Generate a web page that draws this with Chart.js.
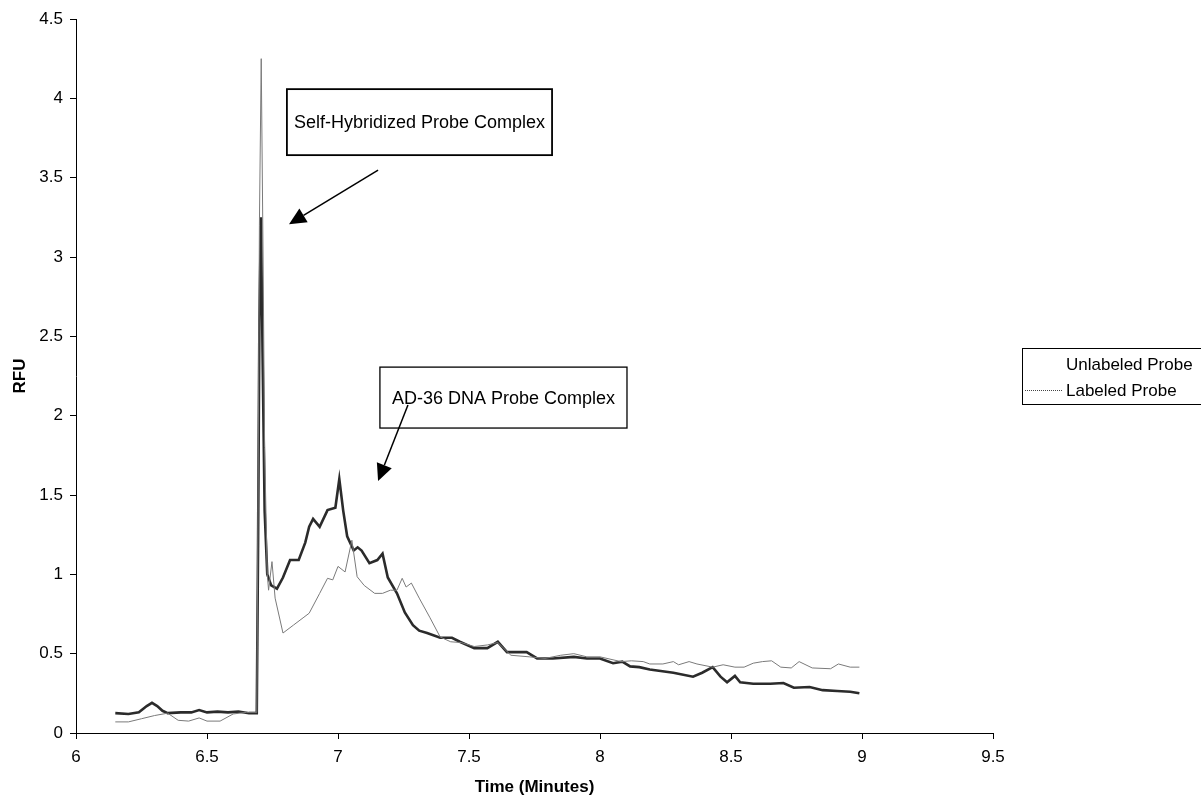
<!DOCTYPE html>
<html>
<head>
<meta charset="utf-8">
<title>RFU vs Time</title>
<script src="https://cdn.jsdelivr.net/npm/chart.js@4/dist/chart.umd.min.js"></script>
<style>
    html, body { margin: 0; padding: 0; background: #fff; }
    #wrap { width: 1201px; height: 798px; }
</style>
</head>
<body>
<div id="wrap"><canvas id="rfu"></canvas></div>
<script>
'use strict';

// tick values
const xTicks = [6, 6.5, 7, 7.5, 8, 8.5, 9, 9.5];
const yTicks = [0, 0.5, 1, 1.5, 2, 2.5, 3, 3.5, 4, 4.5];

// Unlabeled Probe (thin grey trace)
const unlabeledTime = [
    6.15, 6.20, 6.25, 6.30, 6.35, 6.39, 6.43, 6.47, 6.50, 6.55, 6.60, 6.65, 6.69,
    6.695, 6.70, 6.707, 6.714, 6.72, 6.73, 6.735, 6.748, 6.76, 6.79, 6.83, 6.87,
    6.89, 6.93, 6.96, 6.98, 7.00, 7.027, 7.053, 7.073, 7.10, 7.14, 7.17, 7.20,
    7.225, 7.245, 7.26, 7.28, 7.31, 7.35, 7.39, 7.43, 7.47, 7.52, 7.57, 7.61,
    7.66, 7.73, 7.79, 7.85, 7.90, 7.95, 8.00, 8.08, 8.12, 8.165, 8.19, 8.24,
    8.28, 8.30, 8.34, 8.37, 8.43, 8.47, 8.515, 8.55, 8.585, 8.62, 8.655, 8.69,
    8.73, 8.76, 8.81, 8.88, 8.91, 8.955, 8.99
];
const unlabeledRFU = [
    0.07, 0.07, 0.09, 0.11, 0.125, 0.08, 0.075, 0.095, 0.075, 0.075, 0.12, 0.13, 0.13,
    1.5, 3.2, 4.25, 3.0, 1.8, 1.0, 0.9, 1.08, 0.85, 0.63, 0.68, 0.73,
    0.755, 0.88, 0.975, 0.965, 1.05, 1.015, 1.215, 0.985, 0.93, 0.88, 0.88, 0.9,
    0.9, 0.975, 0.92, 0.945, 0.85, 0.73, 0.605, 0.575, 0.57, 0.545, 0.555, 0.57,
    0.49, 0.48, 0.47, 0.49, 0.5, 0.48, 0.48, 0.45, 0.455, 0.45, 0.435, 0.435,
    0.45, 0.43, 0.45, 0.435, 0.415, 0.43, 0.415, 0.415, 0.44, 0.45, 0.455, 0.415,
    0.41, 0.45, 0.41, 0.405, 0.435, 0.415, 0.415
];

// Labeled Probe (thick dark trace)
const labeledTime = [
    6.15, 6.20, 6.24, 6.27, 6.29, 6.31, 6.33, 6.35, 6.40, 6.44, 6.47, 6.50, 6.54,
    6.58, 6.62, 6.66, 6.69, 6.695, 6.70, 6.706, 6.712, 6.72, 6.73, 6.745, 6.767,
    6.79, 6.817, 6.85, 6.875, 6.89, 6.905, 6.93, 6.96, 6.99, 7.005, 7.02, 7.035,
    7.06, 7.075, 7.09, 7.12, 7.15, 7.17, 7.19, 7.225, 7.255, 7.286, 7.31, 7.34,
    7.39, 7.435, 7.465, 7.52, 7.57, 7.61, 7.645, 7.68, 7.72, 7.76, 7.82, 7.90,
    7.95, 8.00, 8.05, 8.085, 8.115, 8.15, 8.19, 8.28, 8.355, 8.39, 8.43, 8.46,
    8.485, 8.515, 8.535, 8.585, 8.65, 8.70, 8.74, 8.80, 8.85, 8.905, 8.955, 8.99
];
const labeledRFU = [
    0.125, 0.12, 0.13, 0.17, 0.19, 0.17, 0.14, 0.125, 0.13, 0.13, 0.145, 0.13, 0.135,
    0.13, 0.135, 0.125, 0.125, 1.2, 2.6, 3.25, 2.4, 1.4, 1.0, 0.93, 0.91,
    0.98, 1.09, 1.09, 1.2, 1.3, 1.35, 1.3, 1.405, 1.42, 1.6, 1.4, 1.24,
    1.15, 1.17, 1.15, 1.07, 1.09, 1.13, 0.98, 0.88, 0.76, 0.68, 0.645, 0.63,
    0.6, 0.6, 0.575, 0.535, 0.535, 0.575, 0.51, 0.51, 0.51, 0.47, 0.47, 0.48,
    0.47, 0.47, 0.44, 0.45, 0.42, 0.415, 0.4, 0.38, 0.355, 0.38, 0.415, 0.355,
    0.32, 0.36, 0.32, 0.31, 0.31, 0.315, 0.285, 0.29, 0.27, 0.265, 0.26, 0.25
];

const FONT = '"Liberation Sans", Arial, Helvetica, sans-serif';

function pairs(xs, ys) {
    return xs.map((x, i) => ({ x: x, y: ys[i] }));
}

// callout boxes and arrows, in data units
const callouts = [
    { text: 'Self-Hybridized Probe Complex', box: [6.805, 4.058, 7.817, 3.642], lw: 1.8,
      arrow: [7.153, 3.548, 6.813, 3.207] },
    { text: 'AD-36 DNA Probe Complex', box: [7.160, 2.306, 8.103, 1.922], lw: 1.3,
      arrow: [7.267, 2.067, 7.153, 1.588] }
];

function drawArrow(c, x1, y1, x2, y2) {
    const ang = Math.atan2(y2 - y1, x2 - x1);
    const len = 17, half = 8;
    const bx = x2 - len * Math.cos(ang), by = y2 - len * Math.sin(ang);
    c.beginPath();
    c.moveTo(x1, y1);
    c.lineTo(bx, by);
    c.stroke();
    c.beginPath();
    c.moveTo(x2, y2);
    c.lineTo(bx + half * Math.sin(ang), by - half * Math.cos(ang));
    c.lineTo(bx - half * Math.sin(ang), by + half * Math.cos(ang));
    c.closePath();
    c.fill();
}

const calloutPlugin = {
    id: 'callouts',
    afterDraw(chart) {
        const c = chart.ctx, xs = chart.scales.x, ys = chart.scales.y;
        c.save();
        c.strokeStyle = '#000';
        c.fillStyle = '#000';
        c.font = '18px ' + FONT;
        c.textAlign = 'center';
        c.textBaseline = 'middle';
        callouts.forEach(cl => {
            const l = xs.getPixelForValue(cl.box[0]), t = ys.getPixelForValue(cl.box[1]);
            const r = xs.getPixelForValue(cl.box[2]), b = ys.getPixelForValue(cl.box[3]);
            c.lineWidth = cl.lw;
            c.strokeRect(l, t, r - l, b - t);
            c.fillText(cl.text, (l + r) / 2, (t + b) / 2 + 1);
            c.lineWidth = 1.5;
            drawArrow(c, xs.getPixelForValue(cl.arrow[0]), ys.getPixelForValue(cl.arrow[1]),
                xs.getPixelForValue(cl.arrow[2]), ys.getPixelForValue(cl.arrow[3]));
        });

        // legend box at the right
        const lx = 1022, ly = 348, lw = 190, lh = 56;
        c.lineWidth = 1;
        c.strokeRect(lx + 0.5, ly + 0.5, lw, lh);
        c.textAlign = 'left';
        c.font = '17px ' + FONT;
        chart.data.datasets.forEach((ds, i) => {
            const yy = ly + 16 + i * 26;
            c.strokeStyle = ds.legendColor;
            c.lineWidth = 1;
            c.setLineDash([1, 1]);
            c.beginPath();
            c.moveTo(lx + 3, yy + 0.5);
            c.lineTo(lx + 41, yy + 0.5);
            c.stroke();
            c.setLineDash([]);
            c.fillStyle = '#000';
            c.fillText(ds.label, lx + 44, yy + 1);
        });
        c.restore();
    }
};

const ctx = document.getElementById('rfu');

new Chart(ctx, {
    type: 'line',
    data: {
        datasets: [
            {
                label: 'Unlabeled Probe',
                data: pairs(unlabeledTime, unlabeledRFU),
                borderColor: '#7a7a7a',
                borderWidth: 1,
                legendColor: '#ffffff'
            },
            {
                label: 'Labeled Probe',
                data: pairs(labeledTime, labeledRFU),
                borderColor: '#2b2b2b',
                borderWidth: 2.6,
                legendColor: '#444444'
            }
        ]
    },
    options: {
        responsive: true,
        maintainAspectRatio: false,
        animation: false,
        layout: { padding: { top: 19, right: 208, left: 0, bottom: 0 } },
        elements: { point: { radius: 0 }, line: { tension: 0 } },
        plugins: { legend: { display: false }, tooltip: { enabled: false } },
        scales: {
            x: {
                type: 'linear',
                min: 6,
                max: 9.5,
                afterBuildTicks: s => { s.ticks = xTicks.map(v => ({ value: v })); },
                afterFit: s => { s.height = 65; },
                ticks: {
                    color: '#000',
                    padding: 8,
                    font: { family: FONT, size: 17 },
                    callback: v => String(v)
                },
                grid: { drawOnChartArea: false, tickLength: 6, color: '#000' },
                border: { color: '#000', width: 1 },
                title: {
                    display: true,
                    text: 'Time (Minutes)',
                    color: '#000',
                    font: { family: FONT, size: 17, weight: 'bold' },
                    padding: { top: 0, bottom: 0 }
                }
            },
            y: {
                type: 'linear',
                min: 0,
                max: 4.5,
                afterBuildTicks: s => { s.ticks = yTicks.map(v => ({ value: v })); },
                afterFit: s => { s.width = 76; },
                ticks: {
                    color: '#000',
                    padding: 7,
                    font: { family: FONT, size: 17 },
                    callback: v => String(v)
                },
                grid: { drawOnChartArea: false, tickLength: 6, color: '#000' },
                border: { color: '#000', width: 1 },
                title: {
                    display: true,
                    text: 'RFU',
                    color: '#000',
                    font: { family: FONT, size: 17, weight: 'bold' },
                    padding: { top: 10, bottom: 0 }
                }
            }
        }
    },
    plugins: [calloutPlugin]
});
</script>
</body>
</html>
